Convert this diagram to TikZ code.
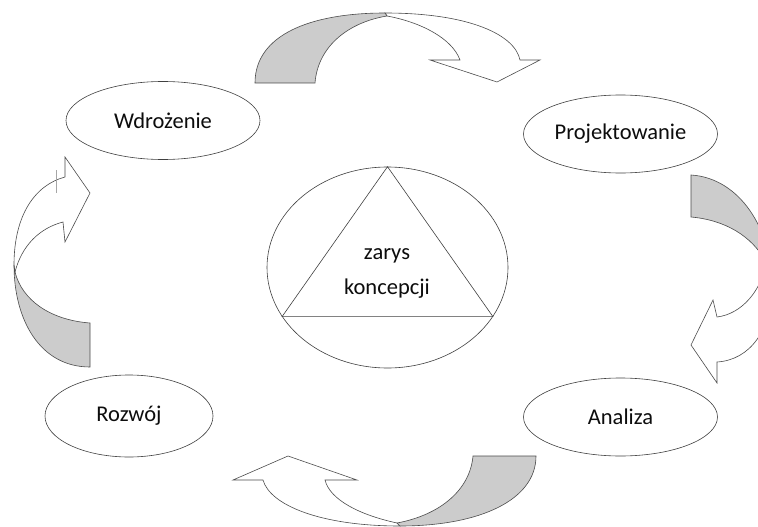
\documentclass[tikz,border=0pt]{standalone}
\usepackage{fontspec}
\setmainfont{Carlito}
\usetikzlibrary{shapes.geometric}

\tikzset{
  faza/.style={ellipse,draw=black!75,line width=0.6pt,minimum width=194pt,minimum height=78pt,inner sep=0pt,font=\fontsize{22.5}{26}\selectfont,text=black!95},
  tyl/.style={draw=black!70,line width=0.6pt,fill=white,line join=miter},
  przod/.style={draw=black!70,line width=0.6pt,fill=black!20},
}

\begin{document}
\begin{tikzpicture}[x=1pt,y=-1pt]
				\useasboundingbox (0,0) rectangle (758,527);
				\clip (0,0) rectangle (758,527);
				\fill[white] (0,0) rectangle (758,527);
				% fazy cyklu
				\node[faza] (wdr) at (163,120.5) {Wdrożenie};
				\node[faza] (proj) at (620.5,134) {Projektowanie};
				\node[faza] (anal) at (620.5,417) {Analiza};
				\node[faza,minimum width=168pt,minimum height=82pt] (rozw) at (129,416) {Rozwój};
				% srodek: elipsa z trojkatem
				\node[ellipse,draw=black!75,line width=0.6pt,minimum width=241pt,minimum height=201pt,inner sep=0pt] (core) at (387.5,267.5) {};
				\draw[black!75,line width=0.6pt] (core.north) -- (core.205) -- (core.335) -- cycle;
				\node[font=\fontsize{22.5}{35}\selectfont,align=center,text=black!95] (idea) at (387,273) {zarys\\koncepcji};
				% strzalka gorna
				\draw[tyl] (385,13) .. controls (470,13) and (515,35) .. (520,60) -- (540,60) -- (497,82) -- (430,60) -- (460,60) .. controls (452,38) and (420,22) .. (387,16) -- cycle;
				\draw[przod] (255,83) .. controls (255,35) and (310,13) .. (385,13) -- (387,16) .. controls (350,22) and (318,45) .. (315,83) -- cycle;
				% strzalka prawa
				\draw[tyl] (772,285) .. controls (772,330) and (750,360) .. (717,362) -- (717,383) -- (691,345) -- (713,300) -- (717,317) .. controls (742,314) and (762,290) .. (766,262) -- cycle;
				\draw[przod] (691,175) .. controls (740,178) and (772,230) .. (772,285) -- (766,262) .. controls (752,236) and (725,220) .. (691,217) -- cycle;
				% strzalka dolna
				\draw[tyl] (400,526) .. controls (320,526) and (270,505) .. (263,480) -- (233,480) -- (288,456) -- (357,480) -- (325,480) .. controls (330,500) and (360,515) .. (397,523) -- cycle;
				\draw[przod] (536,456) .. controls (536,500) and (480,526) .. (400,526) -- (397,523) .. controls (440,515) and (470,490) .. (473,456) -- cycle;
				% strzalka lewa
				\draw[tyl] (14,265) .. controls (14,215) and (35,185) .. (65,177) -- (65,157) -- (90,193) -- (65,242) -- (63,222) .. controls (40,228) and (22,245) .. (15,272) -- cycle;
				\draw[przod] (90,367) .. controls (40,367) and (14,320) .. (14,265) -- (15,272) .. controls (22,300) and (50,320) .. (90,323) -- cycle;
				\draw[black!35,line width=0.6pt] (56,170) -- (56,193);
			\end{tikzpicture}
\end{document}
